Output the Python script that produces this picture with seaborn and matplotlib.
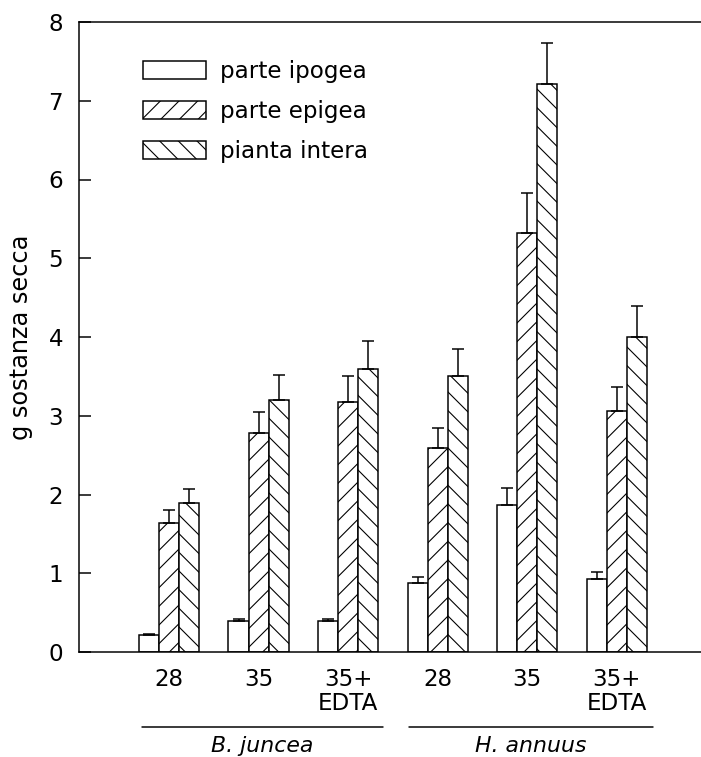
import pandas as pd
import numpy as np
import matplotlib
matplotlib.use("Agg")
import matplotlib.pyplot as plt
import seaborn as sns
from matplotlib.patches import Patch
import matplotlib.transforms as mtransforms

# Data
gruppi = ["Bj 28", "Bj 35", "Bj 35+EDTA", "Ha 28", "Ha 35", "Ha 35+EDTA"]
etichette = ["28", "35", "35+\nEDTA", "28", "35", "35+\nEDTA"]
parti = ["parte ipogea", "parte epigea", "pianta intera"]

ipogea = [0.21, 0.40, 0.40, 0.87, 1.87, 0.93]
epigea = [1.64, 2.78, 3.18, 2.59, 5.32, 3.06]
intera = [1.89, 3.20, 3.60, 3.50, 7.21, 4.00]

err_ipogea = [0.02, 0.02, 0.02, 0.08, 0.21, 0.09]
err_epigea = [0.16, 0.27, 0.32, 0.26, 0.51, 0.31]
err_intera = [0.18, 0.32, 0.35, 0.35, 0.52, 0.40]

specie = ["B. juncea", "H. annuus"]

DPI = 112
PX = 72 / DPI  # points per pixel

df = pd.DataFrame({
    "gruppo": gruppi * 3,
    "parte": [p for p in parti for _ in gruppi],
    "valore": ipogea + epigea + intera,
})
errori = [err_ipogea, err_epigea, err_intera]

sns.set_style("ticks")
plt.rcParams["font.family"] = ["DejaVu Sans"]
plt.rcParams["text.color"] = "black"
plt.rcParams["axes.labelcolor"] = "black"
plt.rcParams["hatch.linewidth"] = 1.1 * PX
plt.rcParams["hatch.color"] = "black"

fig = plt.figure(figsize=(701 / DPI, 757 / DPI), dpi=DPI)
ax = fig.add_axes([79 / 701, 105 / 757, 622 / 701, 630 / 757])

sns.barplot(data=df, x="gruppo", y="valore", hue="parte",
            order=gruppi, hue_order=parti, palette=["white"] * 3,
            saturation=1, width=0.67, gap=0, errorbar=None,
            edgecolor="black", linewidth=1.5 * PX, legend=False, ax=ax)

hatches = ["", "//", "\\\\"]
for cont, h, err in zip(ax.containers, hatches, errori):
    xs, ys = [], []
    for bar in cont:
        bar.set_hatch(h)
        xs.append(bar.get_x() + bar.get_width() / 2)
        ys.append(bar.get_height())
    ax.errorbar(xs, ys, yerr=[np.zeros(len(err)), err], fmt="none",
                ecolor="black", elinewidth=1.5 * PX, capsize=6 * PX,
                capthick=1.5 * PX, zorder=1)

ax.set_ylim(0, 8)
ax.set_xlim(-1.004, 5.94)
ax.set_yticks(range(9))
ax.set_xticks(range(len(gruppi)))
ax.set_xticklabels(etichette, linespacing=1.05)
ax.set_xlabel("")
ax.set_ylabel("g sostanza secca", fontsize=24 * PX)
ax.yaxis.set_label_coords(-0.074, 0.5)

ax.tick_params(axis="y", direction="in", length=12 * PX, width=1.5 * PX,
               labelsize=23 * PX, pad=16 * PX, colors="black")
ax.tick_params(axis="x", length=0, labelsize=23 * PX, pad=16 * PX,
               colors="black")
for s in ["left", "bottom", "top"]:
    ax.spines[s].set_linewidth(1.5 * PX)
    ax.spines[s].set_color("black")
ax.spines["right"].set_visible(False)

# species lines and labels under the axis
trans = mtransforms.blended_transform_factory(ax.transData, ax.transAxes)
linee = [(-0.30, 2.39), (2.68, 5.40)]
for (x0, x1), nome in zip(linee, specie):
    ax.plot([x0, x1], [-0.119, -0.119], color="black", lw=1.5 * PX,
            transform=trans, clip_on=False)
    ax.text((x0 + x1) / 2, -0.134, nome, style="italic", fontsize=22 * PX,
            ha="center", va="top", transform=trans)

handles = [Patch(facecolor="white", edgecolor="black", hatch=h,
                 linewidth=1.5 * PX) for h in hatches]
fig.legend(handles, parti, loc="upper left",
           bbox_to_anchor=(143 / 701, 1 - 60 / 757), frameon=False,
           fontsize=23 * PX, handlelength=2.74, handleheight=0.8,
           handletextpad=0.6, labelspacing=0.74, borderpad=0,
           borderaxespad=0)

fig.savefig("out.png", dpi=DPI)
